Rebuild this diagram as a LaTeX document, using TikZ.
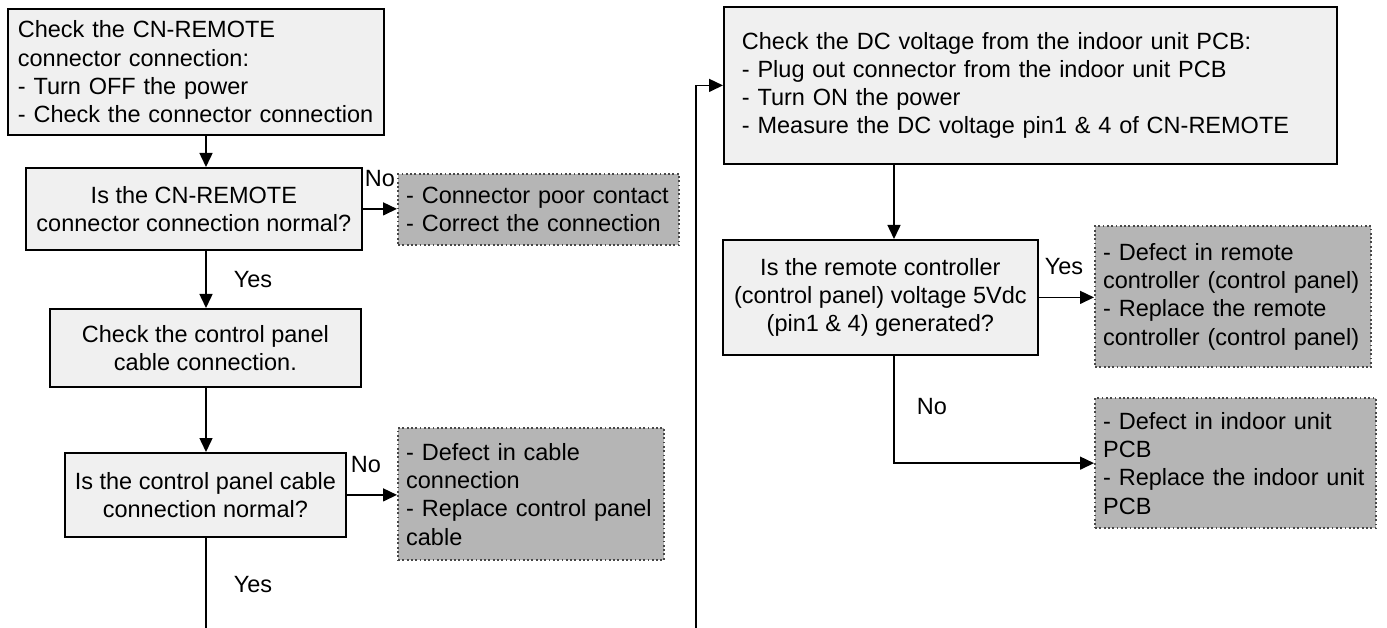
\documentclass[tikz,border=0pt]{standalone}
\usepackage{fontspec}
\setmainfont{Liberation Sans}
\usetikzlibrary{arrows.meta,calc}
\begin{document}
\begin{tikzpicture}[x=1pt,y=-1pt,
  every node/.style={font=\fontsize{23.5pt}{28.3pt}\selectfont},
  box/.style={draw=black,line width=1.8pt,fill=black!6,rectangle,anchor=north west,inner ysep=0pt},
  gbox/.style={draw=black!72,line width=2.3pt,dash pattern=on 1.8pt off 2.5pt,fill=black!29,rectangle,anchor=north west,inner ysep=0pt,inner xsep=8pt,align=left},
  conn/.style={line width=1.5pt,-{Triangle[length=14pt,width=13pt]}},
  plain/.style={line width=1.5pt},
  lbl/.style={inner sep=0pt}]
\useasboundingbox (0,0) rectangle (1387,628);
% left column
\node[box,minimum width=376pt,minimum height=126pt,text width=356pt,inner xsep=10pt,align=left] (b1) at (7,8)
  {Check the CN-REMOTE\\connector connection:\\- Turn OFF the power\\- Check the connector connection};
\node[box,minimum width=336pt,minimum height=82pt,align=center] (b2) at (25,167)
  {Is the CN-REMOTE\\connector connection normal?};
\node[gbox,minimum width=281pt,minimum height=71pt,text width=265pt] (g1) at (397,173)
  {- Connector poor contact\\- Correct the connection};
\node[box,minimum width=311pt,minimum height=78pt,align=center] (b3) at (49,308)
  {Check the control panel\\cable connection.};
\node[box,minimum width=281pt,minimum height=84pt,align=center] (b4) at (64,452)
  {Is the control panel cable\\connection normal?};
\node[gbox,minimum width=266pt,minimum height=132pt,text width=250pt] (g2) at (397,427)
  {- Defect in cable\\connection\\- Replace control panel\\cable};
% right column
\node[box,minimum width=613pt,minimum height=157pt,text width=577pt,inner xsep=18pt,align=left] (b5) at (723,6)
  {Check the DC voltage from the indoor unit PCB:\\- Plug out connector from the indoor unit PCB\\- Turn ON the power\\- Measure the DC voltage pin1 \& 4 of CN-REMOTE};
\node[box,minimum width=315pt,minimum height=115pt,align=center] (b6) at (722,239)
  {Is the remote controller\\(control panel) voltage 5Vdc\\(pin1 \& 4) generated?};
\node[gbox,minimum width=276pt,minimum height=141pt,text width=260pt] (g3) at (1094,225)
  {- Defect in remote\\controller (control panel)\\- Replace the remote\\controller (control panel)};
\node[gbox,minimum width=281pt,minimum height=130pt,text width=265pt] (g4) at (1094,397)
  {- Defect in indoor unit\\PCB\\- Replace the indoor unit\\PCB};
% labels
\node[lbl] (no1) at (380,179) {No};
\node[lbl] (yes1) at (253,280) {Yes};
\node[lbl] (no2) at (366,465) {No};
\node[lbl] (yes2) at (253,585) {Yes};
\node[lbl] (yes3) at (1064,267) {Yes};
\node[lbl] (no3) at (932,407) {No};
% helper coordinates
\coordinate (ls) at (206,628);
\coordinate (rs) at (894,0);
\coordinate (fb) at (696,628);
% connectors
\draw[conn] (b1.south -| ls) -- (b2.north -| ls);
\draw[conn] (b2.south -| ls) -- (b3.north -| ls);
\draw[conn] (b3.south -| ls) -- (b4.north -| ls);
\draw[plain] (b4.south -| ls) -- (ls);
\draw[conn] (b2.east) -- (b2.east -| g1.west);
\draw[conn] (b4.east) -- (b4.east -| g2.west);
\draw[conn] (fb) |- (b5.west);
\draw[conn] (b5.south -| rs) -- (b6.north -| rs);
\draw[conn] (b6.east) -- (b6.east -| g3.west);
\draw[conn] (b6.south -| rs) |- (g4.west);
\end{tikzpicture}
\end{document}
